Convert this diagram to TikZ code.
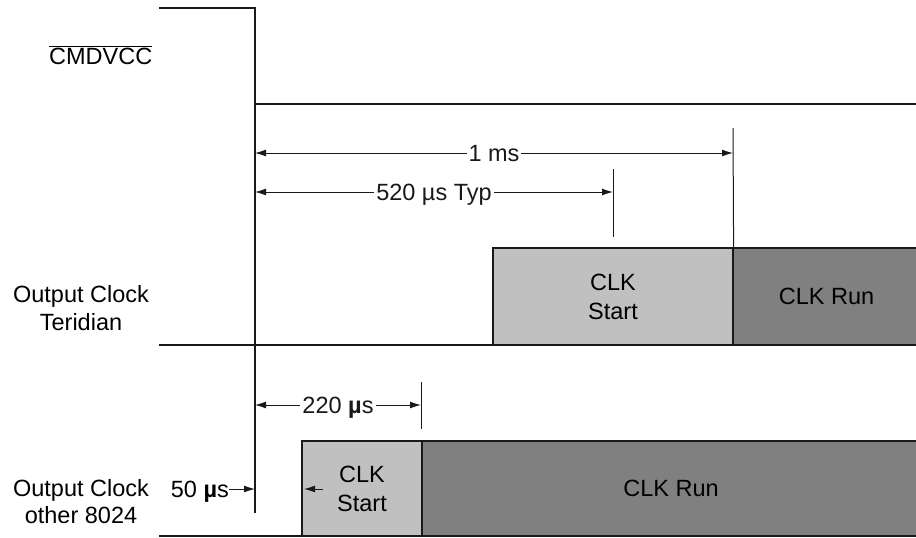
\documentclass[tikz,border=0pt]{standalone}
\usepackage{fontspec}
\setmainfont{Liberation Sans}
\usetikzlibrary{arrows.meta}
\definecolor{startgray}{HTML}{C0C0C0}
\definecolor{rungray}{HTML}{808080}
\begin{document}
\begin{tikzpicture}[x=1pt,y=-1pt,
  font=\fontsize{23.5}{27}\selectfont,
  sig/.style={line width=1.2pt, black!90},
  ext/.style={line width=1pt, black!90},
  dimline/.style={line width=1pt, black!90, {Latex[length=11pt,width=7pt]}-{Latex[length=11pt,width=7pt]}},
  onearrow/.style={line width=1pt, black!90, -{Latex[length=11pt,width=7pt]}},
  dimlabel/.style={fill=white, inner xsep=2pt, inner ysep=1pt, anchor=base},
  startbox/.style={draw=black!90, line width=1.2pt, fill=startgray, align=center, inner sep=0pt,
     font=\fontsize{23.5}{29}\selectfont},
  runbox/.style={draw=black!90, line width=1.2pt, fill=rungray, align=center, inner sep=0pt},
  rowlabel/.style={align=center, inner sep=0pt, anchor=base, font=\fontsize{23.5}{28}\selectfont}
]
\useasboundingbox (0,0) rectangle (916,538);

% signal CMDVCC
\node[anchor=base west, inner sep=0pt] (cmd) at (49,64) {$\overline{\hbox{CMDVCC}}$};
\coordinate (c0) at (159,8);
\coordinate (c1) at (255,8);
\coordinate (c2) at (255,104);
\coordinate (c3) at (916,104);
\coordinate (c4) at (255,513);
\draw[sig] (c0) -- (c1) -- (c4);
\draw[sig] (c2) -- (c3);
\draw[line width=2pt, black!90] (255,128) -- (255,225);

% Teridian row
\node[rowlabel] (lab1) at (81,330) {Output Clock\\Teridian};
\node[startbox, minimum width=240pt, minimum height=97pt] (ts) at (613,296.5) {CLK\\Start};
\node[runbox, minimum width=187pt, minimum height=97pt] (tr) at (826.5,296.5) {CLK Run};
\coordinate (b1l) at (159,345);
\coordinate (b1r) at (916,345);
\draw[sig] (b1l) -- (b1r);

% extension lines
\coordinate (x1a) at (733,128);
\coordinate (x2a) at (613,169);
\coordinate (x2b) at (613,237);
\draw[ext] (x1a) -- (ts.north east);
\draw[ext] (x2a) -- (x2b);

% dimensions
\coordinate (d1l) at (255,153);
\coordinate (d1r) at (733,153);
\draw[dimline] (d1l) -- (d1r) node[dimlabel, pos=0.5, yshift=-8pt] (l1ms) {1 ms};
\coordinate (d2l) at (255,192);
\coordinate (d2r) at (613,192);
\draw[dimline] (d2l) -- (d2r) node[dimlabel, pos=0.5, yshift=-8pt] (l520) {520 µs Typ};

% other 8024 row
\node[rowlabel, font=\fontsize{23.5}{27.5}\selectfont] (lab2) at (81,523.5) {Output Clock\\other 8024};
\node[startbox, minimum width=120pt, minimum height=95pt] (os) at (362,488.5) {CLK\\Start};
\node[runbox, minimum width=498pt, minimum height=95pt] (or) at (671,488.5) {CLK Run};
\coordinate (b2l) at (159,536);
\coordinate (b2r) at (916,536);
\draw[sig] (b2l) -- (b2r);

\coordinate (x3a) at (421,382);
\coordinate (x3b) at (421,429);
\draw[ext] (x3a) -- (x3b);
\coordinate (d3l) at (255,405);
\coordinate (d3r) at (421,405);
\draw[dimline] (d3l) -- (d3r) node[dimlabel, pos=0.5, yshift=-8pt] (l220) {220 {\bfseries µ}s};

\node[anchor=base east, inner sep=0pt] (l50) at (229,497) {50 {\bfseries µ}s};
\coordinate (d4r) at (255,489);
\draw[onearrow] (l50.east |- d4r) -- (d4r);
\coordinate (d5a) at (323,489);
\coordinate (d5b) at (304,489);
\draw[onearrow] (d5a) -- (d5b);
\end{tikzpicture}
\end{document}
